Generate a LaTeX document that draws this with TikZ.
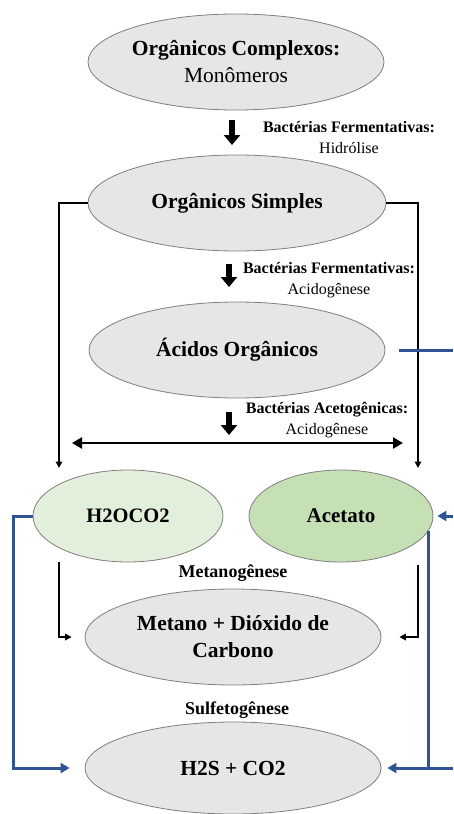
\documentclass[tikz,border=0pt]{standalone}
\usepackage{fontspec}
\setmainfont{Liberation Serif}
\usetikzlibrary{shapes.geometric,arrows.meta}
\definecolor{ellgray}{HTML}{E7E6E6}
\definecolor{ellline}{HTML}{7F7F7F}
\definecolor{lightgreen}{HTML}{E2EFDA}
\definecolor{midgreen}{HTML}{C5E0B4}
\definecolor{flowblue}{HTML}{2F5597}
\begin{document}
\begin{tikzpicture}[x=1pt,y=-1pt,
  oval/.style={ellipse, draw=ellline, line width=0.8pt, fill=ellgray, inner sep=0pt, align=center,
    font=\fontsize{21.5}{27}\selectfont\bfseries},
  bigarrow/.style={line width=6.5pt, -{Triangle[width=16pt,length=10pt]}},
  thinarrow/.style={line width=1.6pt, -{Triangle[width=6.5pt,length=6.5pt]}},
  dblarrow/.style={line width=2.8pt, {Triangle[width=11pt,length=10pt]}-{Triangle[width=11pt,length=10pt]}},
  bluearrow/.style={flowblue, line width=3pt, -{Triangle[width=10pt,length=9pt]}},
  blueline/.style={flowblue, line width=3pt},
  lbl/.style={align=center, font=\fontsize{16}{21}\selectfont, inner sep=0pt},
  stage/.style={font=\fontsize{18}{22}\selectfont\bfseries, inner sep=0pt}]

\useasboundingbox[fill=white] (0,0) rectangle (453,814);

% ellipses
\node[oval, minimum width=296pt, minimum height=96pt] (E1) at (236,62)
  {Orgânicos Complexos:\\ \mdseries Monômeros};
\node[oval, minimum width=298pt, minimum height=96pt] (E2) at (237,203) {Orgânicos Simples};
\node[oval, minimum width=296pt, minimum height=96pt] (E3) at (237,350) {Ácidos Orgânicos};
\node[oval, fill=lightgreen, minimum width=190pt, minimum height=92pt,
  font=\fontsize{20.5}{24}\selectfont\bfseries] (E4) at (128,516) {H2OCO2};
\node[oval, fill=midgreen, minimum width=184pt, minimum height=92pt,
  font=\fontsize{21}{24}\selectfont\bfseries] (E5) at (341,516) {Acetato};
\node[oval, minimum width=296pt, minimum height=96pt] (E6) at (233,637)
  {Metano + Dióxido de\\ Carbono};
\node[oval, minimum width=296pt, minimum height=92pt] (E7) at (233,768) {H2S + CO2};

% labels
\node[lbl] (L1) at (349,138) {\textbf{Bactérias Fermentativas:}\\ Hidrólise};
\node[lbl] (L2) at (329,280) {\textbf{Bactérias Fermentativas:}\\ Acidogênese};
\node[lbl] (L3) at (327,420) {\textbf{Bactérias Acetogênicas:}\\ Acidogênese};
\node[stage] (S1) at (233,573) {Metanogênese};
\node[stage] (S2) at (237,710) {Sulfetogênese};

% thick step arrows
\coordinate (a1s) at (232,120); \coordinate (a1e) at (232,145);
\coordinate (a2s) at (229,264); \coordinate (a2e) at (229,287);
\coordinate (a3s) at (229,412); \coordinate (a3e) at (229,435);
\draw[bigarrow] (a1s) -- (a1e);
\draw[bigarrow] (a2s) -- (a2e);
\draw[bigarrow] (a3s) -- (a3e);

% double arrow
\coordinate (dL) at (72,443); \coordinate (dR) at (403,443);
\draw[dblarrow] (dL) -- (dR);

% side arrows from Organicos Simples
\coordinate (lTop) at (59,203); \coordinate (lBot) at (59,468);
\coordinate (rTop) at (418,203); \coordinate (rBot) at (418,468);
\draw[thinarrow] (E2.west) -- (lTop) -- (lBot);
\draw[thinarrow] (E2.east) -- (rTop) -- (rBot);

% arrows into Metano
\coordinate (mL) at (59,562); \coordinate (mLc) at (59,637);
\coordinate (mR) at (418,565); \coordinate (mRc) at (418,637);
\draw[thinarrow] (mL) -- (mLc) -- ([xshift=-13pt]E6.west);
\draw[thinarrow] (mR) -- (mRc) -- ([xshift=18pt]E6.east);

% blue connectors
\coordinate (bA) at (453,350);
\draw[blueline] ([xshift=14pt]E3.east) -- (bA);
\coordinate (bB) at (453,516);
\draw[bluearrow] (bB) -- ([xshift=4pt]E5.east);
\coordinate (bL1) at (13,516); \coordinate (bL2) at (13,768);
\draw[bluearrow] (E4.west) -- (bL1) -- (bL2) -- ([xshift=-15pt]E7.west);
\coordinate (bR) at (428,768);
\draw[blueline] (E5.-10) -- (E5.-10 |- bR);
\coordinate (bRe) at (453,768);
\draw[bluearrow] (bRe) -- ([xshift=6pt]E7.east);

\end{tikzpicture}
\end{document}
